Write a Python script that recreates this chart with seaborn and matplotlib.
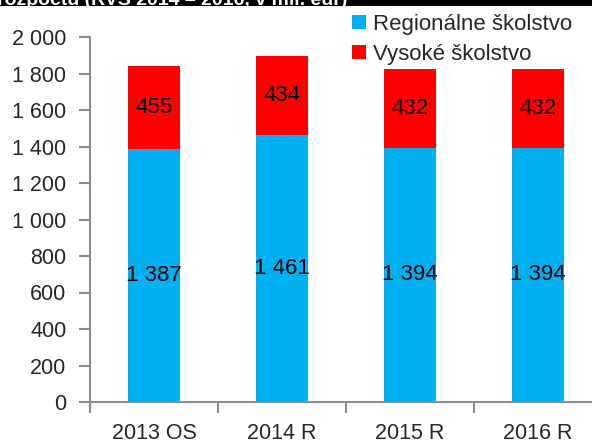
import matplotlib
matplotlib.use("Agg")
import matplotlib.pyplot as plt
import seaborn as sns
import pandas as pd
from matplotlib.patches import Patch, Rectangle
from matplotlib.ticker import FuncFormatter, FixedLocator

categories = ["2013 OS", "2014 R", "2015 R", "2016 R"]
regional = [1387, 1461, 1394, 1394]
higher = [455, 434, 432, 432]
series_names = ["Regionálne školstvo", "Vysoké školstvo"]
title_text = "rozpočtu (RVS 2014 – 2016, v mil. eur)"

BLUE = "#00B0F0"
RED = "#FF0000"
GRAY = "#8C8C8C"

sns.set_style("white")
plt.rcParams["font.family"] = ["Liberation Sans", "DejaVu Sans"]

df = pd.DataFrame({"cat": categories, "reg": regional, "high": higher})
df["total"] = df["reg"] + df["high"]

fig = plt.figure(figsize=(5.92, 4.43), dpi=100)
ax = fig.add_axes([90 / 592, 41 / 443, 512 / 592, 365 / 443])

sns.barplot(data=df, x="cat", y="total", color=RED, width=0.4, ax=ax,
            saturation=1, edgecolor="none")
sns.barplot(data=df, x="cat", y="reg", color=BLUE, width=0.4, ax=ax,
            saturation=1, edgecolor="none")

fmt = lambda v: f"{int(round(v)):,}".replace(",", " ")

red_c, blue_c = ax.containers[0], ax.containers[1]
ax.bar_label(blue_c, labels=[fmt(v) for v in regional], label_type="center",
             fontsize=16, color="black")
for rect, v, r in zip(red_c, higher, regional):
    x = rect.get_x() + rect.get_width() / 2
    ax.text(x, r + v / 2, fmt(v), ha="center", va="center", fontsize=16, color="black")

ax.set_ylim(0, 2000)
ax.set_xlim(-0.5, 3.5)
ax.set_yticks(range(0, 2001, 200))
ax.yaxis.set_major_formatter(FuncFormatter(lambda v, p: fmt(v)))
ax.set_xlabel("")
ax.set_ylabel("")

for s in ["top", "right"]:
    ax.spines[s].set_visible(False)
for s in ["left", "bottom"]:
    ax.spines[s].set_color(GRAY)
    ax.spines[s].set_linewidth(1.5)

ax.tick_params(axis="y", which="major", direction="out", length=8, width=1.5,
               color=GRAY, labelsize=15.5, pad=9, left=True)
ax.tick_params(axis="x", which="major", length=0, labelsize=15.5, pad=15)
ax.xaxis.set_minor_locator(FixedLocator([-0.5, 0.5, 1.5, 2.5, 3.5]))
ax.tick_params(axis="x", which="minor", direction="out", length=8, width=1.5,
               color=GRAY, bottom=True)

handles = [Patch(facecolor=BLUE, edgecolor="none"), Patch(facecolor=RED, edgecolor="none")]
fig.legend(handles, series_names, loc="upper left", bbox_to_anchor=(350 / 592, 1 - 12 / 443),
           frameon=False, fontsize=16, handlelength=0.6, handleheight=0.6,
           handletextpad=0.35, labelspacing=0.4, borderpad=0.1, borderaxespad=0)

fig.patches.append(Rectangle((0, 1 - 6 / 443), 1, 6 / 443, transform=fig.transFigure,
                             facecolor="black", edgecolor="none", zorder=0))
fig.text(347 / 592, 1 - 5 / 443, title_text, ha="right", va="baseline",
         color="white", fontsize=14, fontweight="bold", zorder=5)

fig.savefig("out.png", dpi=100)
